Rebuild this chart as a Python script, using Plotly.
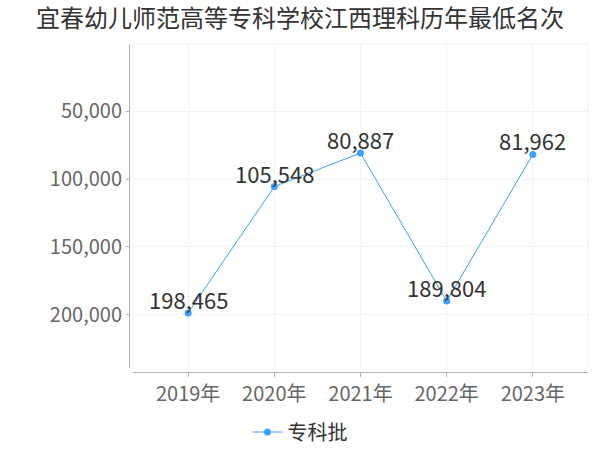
import plotly.graph_objects as go

years = ["2019年", "2020年", "2021年", "2022年", "2023年"]
ranks = [198465, 105548, 80887, 189804, 81962]
rank_labels = ["198,465", "105,548", "80,887", "189,804", "81,962"]
series_name = "专科批"
title = "宜春幼儿师范高等专科学校江西理科历年最低名次"
y_ticks = [50000, 100000, 150000, 200000]
y_tick_text = ["50,000", "100,000", "150,000", "200,000"]

FONT = "Noto Sans CJK SC"
GRID = "#f2f2f2"
AXIS = "#b0b0b0"
COLOR = "#3ba0ff"

xs = list(range(len(years)))

fig = go.Figure()
fig.add_trace(go.Scatter(
    x=xs, y=ranks, mode="lines+markers",
    name=series_name,
    line=dict(color=COLOR, width=1), marker=dict(color=COLOR, size=7),
    cliponaxis=False,
))

for xv, yv, lab in zip(xs, ranks, rank_labels):
    fig.add_annotation(x=xv, y=yv, xref="x", yref="y", text=lab,
                       showarrow=False, xanchor="center", yanchor="middle",
                       yshift=14,
                       font=dict(family=FONT, size=22, color="#333333"))

fig.update_layout(
    width=600, height=450,
    margin=dict(l=129, r=12, t=44, b=78, autoexpand=False),
    paper_bgcolor="white", plot_bgcolor="white",
    font=dict(family=FONT, color="#666666"),
    title=dict(text=title, x=0.5, xanchor="center", xref="container",
               y=0.958, yanchor="middle", yref="container",
               font=dict(family=FONT, size=24, color="#333333")),
    showlegend=True,
    legend=dict(orientation="h", x=0.5, xanchor="center", xref="container",
                y=0.04, yanchor="middle", yref="container",
                font=dict(family=FONT, size=20, color="#333333"),
                itemwidth=30),
    xaxis=dict(
        domain=[0.0087, 1], anchor="free", position=0,
        tickmode="array", tickvals=xs, ticktext=years,
        range=[-0.64, 4.64], showgrid=True, gridcolor=GRID, gridwidth=1,
        zeroline=False, showline=True, linecolor=AXIS, linewidth=1,
        ticks="outside", ticklen=4, tickcolor=AXIS,
        tickfont=dict(family=FONT, size=20, color="#666666"),
    ),
    yaxis=dict(
        domain=[0.0122, 1], anchor="free", position=0,
        autorange=False, range=[239000, 700],
        tickmode="array", tickvals=y_ticks, ticktext=y_tick_text,
        showgrid=True, gridcolor=GRID, gridwidth=1, zeroline=False,
        showline=True, linecolor=AXIS, linewidth=1,
        ticks="outside", ticklen=3, tickcolor=AXIS,
        tickfont=dict(family=FONT, size=20, color="#666666"),
    ),
)

# faint plot-area border lines (top, left, right)
for x0, y0, x1, y1 in [(0, 1, 1, 1), (0, 0, 0, 1), (1, 0, 1, 1)]:
    fig.add_shape(type="line", xref="x domain", yref="y domain",
                  x0=x0, y0=y0, x1=x1, y1=y1,
                  line=dict(color=GRID, width=1), layer="below")

fig.write_html("out.html",
               config={"displayModeBar": False},
               post_script="document.body.style.margin='0';document.body.style.overflow='hidden';")
